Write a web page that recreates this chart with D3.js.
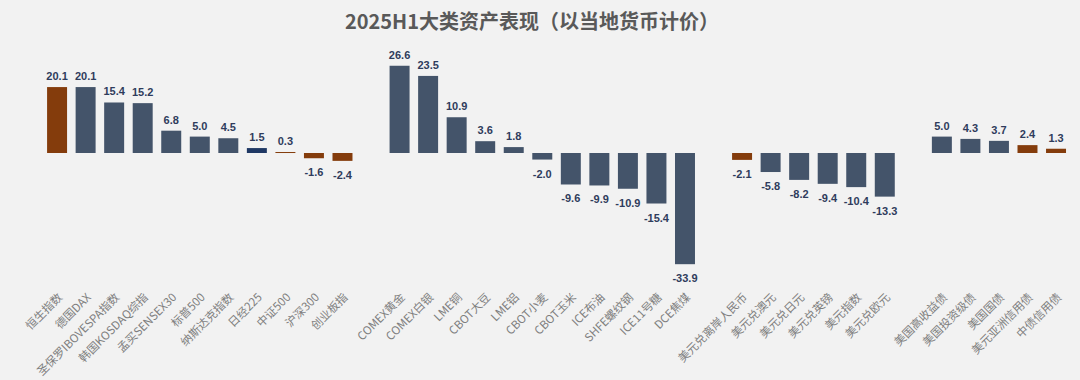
<!DOCTYPE html>
<html>
<head>
<meta charset="utf-8">
<script src="https://cdn.jsdelivr.net/npm/d3@7"></script>
<style>
  body { margin: 0; background: #f2f2f2; }
  svg { display: block; }
</style>
</head>
<body>
<div id="chart"></div>
<script>
// four groups of assets, separated by one empty slot
var equities = ["恒生指数", "德国DAX", "圣保罗IBOVESPA指数", "韩国KOSDAQ综指", "孟买SENSEX30", "标普500", "纳斯达克指数", "日经225", "中证500", "沪深300", "创业板指"];
var equityValues = [20.1, 20.1, 15.4, 15.2, 6.8, 5.0, 4.5, 1.5, 0.3, -1.6, -2.4];

var commodities = ["COMEX黄金", "COMEX白银", "LME铜", "CBOT大豆", "LME铝", "CBOT小麦", "CBOT玉米", "ICE布油", "SHFE螺纹钢", "ICE11号糖", "DCE焦煤"];
var commodityValues = [26.6, 23.5, 10.9, 3.6, 1.8, -2.0, -9.6, -9.9, -10.9, -15.4, -33.9];

var currencies = ["美元兑离岸人民币", "美元兑澳元", "美元兑日元", "美元兑英镑", "美元指数", "美元兑欧元"];
var currencyValues = [-2.1, -5.8, -8.2, -9.4, -10.4, -13.3];

var bonds = ["美国高收益债", "美国投资级债", "美国国债", "美元亚洲信用债", "中债信用债"];
var bondValues = [5.0, 4.3, 3.7, 2.4, 1.3];

// which bars are highlighted
var brownNames = ["恒生指数", "中证500", "沪深300", "创业板指", "美元兑离岸人民币", "美元亚洲信用债", "中债信用债"];
var navyNames = ["日经225"];

var title = "2025H1大类资产表现（以当地货币计价）";

var width = 1080, height = 380;

var groups = [[equities, equityValues], [commodities, commodityValues], [currencies, currencyValues], [bonds, bondValues]];
var domain = [], data = [];
groups.forEach(function(g, gi) {
  if (gi > 0) domain.push("gap" + gi);
  g[0].forEach(function(name, i) {
    domain.push(name);
    data.push({name: name, value: g[1][i]});
  });
});

var svg = d3.select("#chart").append("svg")
  .attr("width", width)
  .attr("height", height);

svg.append("rect").attr("width", width).attr("height", height).attr("fill", "#f2f2f2");

var x = d3.scaleBand()
  .domain(domain)
  .range([42.8, 1070.3])
  .paddingInner(0.3)
  .paddingOuter(0.15);

var y = d3.scaleLinear()
  .domain([-40, 30])
  .range([284.2, 54.6]);

function color(d) {
  if (navyNames.indexOf(d.name) >= 0) return "#1f3864";
  if (brownNames.indexOf(d.name) >= 0) return "#843c0c";
  return "#44546a";
}

svg.append("text")
  .attr("x", 532)
  .attr("y", 29)
  .attr("text-anchor", "middle")
  .attr("font-family", "'Noto Sans CJK SC', sans-serif")
  .attr("font-weight", "bold")
  .attr("font-size", 20)
  .attr("fill", "#595959")
  .text(title);

svg.append("g").selectAll("rect")
  .data(data)
  .enter().append("rect")
  .attr("x", function(d) { return x(d.name); })
  .attr("width", x.bandwidth())
  .attr("y", function(d) { return y(Math.max(0, d.value)); })
  .attr("height", function(d) { return Math.max(1, Math.abs(y(d.value) - y(0))); })
  .attr("fill", color);

svg.append("g").selectAll("text")
  .data(data)
  .enter().append("text")
  .attr("x", function(d) { return x(d.name) + x.bandwidth() / 2; })
  .attr("y", function(d) { return d.value >= 0 ? y(d.value) - 7 : y(d.value) + 18; })
  .attr("text-anchor", "middle")
  .attr("font-family", "'Liberation Sans', Arial, sans-serif")
  .attr("font-weight", "bold")
  .attr("font-size", 11)
  .attr("fill", "#2f3c5c")
  .text(function(d) { return d.value.toFixed(1); });

svg.append("g").selectAll("text")
  .data(data)
  .enter().append("text")
  .attr("transform", function(d) {
    return "translate(" + (x(d.name) + x.bandwidth() / 2 + 6) + ",298) rotate(-45)";
  })
  .attr("text-anchor", "end")
  .attr("font-family", "'Noto Sans CJK SC', sans-serif")
  .attr("font-size", 11.5)
  .attr("fill", "#7f7f7f")
  .text(function(d) { return d.name; });
</script>
</body>
</html>
